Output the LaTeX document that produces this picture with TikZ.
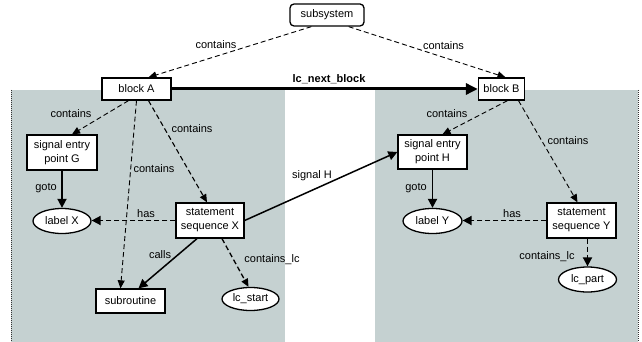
\documentclass[tikz,border=0pt]{standalone}
\usepackage{fontspec}
\setmainfont{Liberation Sans}
\usetikzlibrary{arrows.meta,shapes.geometric}
\definecolor{panel}{RGB}{197,209,209}
\tikzset{
  every node/.style={font=\fontsize{11}{14}\selectfont},
  box/.style={draw, line width=1.3pt, fill=white, inner sep=0pt, align=center},
  oval/.style={ellipse, draw, line width=1.3pt, fill=white, inner sep=0pt},
  lbl/.style={inner sep=0pt},
  tipthin/.style={-{Triangle[length=8pt,width=7pt]}},
  tipthick/.style={-{Triangle[length=9pt,width=9pt]}},
  dashes/.style={dash pattern=on 5pt off 3pt},
  thin dep/.style={tipthin, dashes, line width=0.9pt},
  thick dep/.style={tipthick, dashes, line width=1.8pt},
  solid link/.style={tipthick, line width=1.5pt},
  strong link/.style={tipthick, line width=1.8pt},
  edge rule/.style={dash pattern=on 1pt off 1pt, line width=0.8pt, black!80},
}
\begin{document}
\begin{tikzpicture}[x=1pt, y=-1pt]
  \useasboundingbox (0,0) rectangle (642,342);

  % shaded regions of the two blocks
  \fill[panel] (11,90) rectangle (285,342);
  \fill[panel] (375,90) rectangle (638,342);
  \draw[edge rule] (11,90) -- (11,342);
  \draw[edge rule] (638,90) -- (638,342);

  % nodes
  \node[box, rounded corners=4pt, minimum width=74pt, minimum height=22pt] (sys) at (327,15) {subsystem};
  \node[box, minimum width=69pt, minimum height=22pt] (A) at (136.5,89) {block A};
  \node[box, minimum width=46pt, minimum height=22pt] (B) at (501.5,89) {block B};

  \node[box, minimum width=70pt, minimum height=35pt] (G) at (62,152.5) {signal entry\\point G};
  \node[oval, minimum width=58pt, minimum height=25pt] (LX) at (62,221) {label X};
  \node[box, minimum width=68pt, minimum height=35pt] (SX) at (210,220.5) {statement\\sequence X};
  \node[box, minimum width=69pt, minimum height=24pt] (subr) at (130.5,301) {subroutine};
  \node[oval, minimum width=57pt, minimum height=23pt] (LS) at (250.5,299) {lc\_start};

  \node[box, minimum width=69pt, minimum height=34pt] (H) at (432.5,152) {signal entry\\point H};
  \node[oval, minimum width=59pt, minimum height=25pt] (LY) at (432.5,221) {label Y};
  \node[box, minimum width=69pt, minimum height=35pt] (SY) at (581.5,220.5) {statement\\sequence Y};
  \node[oval, minimum width=58pt, minimum height=25pt] (LP) at (587.5,279.5) {lc\_part};

  % connectors
  \draw[thin dep] ([xshift=22pt]sys.south west) -- ([xshift=12pt]A.north);
  \draw[thin dep] ([xshift=-16pt]sys.south east) -- ([xshift=4pt]B.north);
  \draw[line width=3pt, -{Triangle[length=12pt,width=11pt]}] (A.east) -- (B.west);

  \draw[thin dep] ([xshift=-8pt]A.south) -- ([xshift=10pt]G.north);
  \draw[thin dep] (A.south) -- ([xshift=-10pt]subr.north);
  \draw[thin dep, line width=1.1pt] ([xshift=12pt]A.south) -- ([xshift=-3pt]SX.north);
  \draw[strong link] (G) -- (LX);
  \draw[thick dep] (SX.west) -- (SX.west -| LX.east);
  \draw[solid link] ([xshift=-13pt]SX.south) -- ([xshift=8pt]subr.north);
  \draw[thin dep, line width=1.3pt] ([xshift=12pt]SX.south) -- ([xshift=-2pt]LS.north);
  \draw[solid link] (SX.east) -- (H.west);

  \draw[thin dep] ([xshift=6pt]B.south) -- ([xshift=10pt]H.north);
  \draw[thin dep] ([xshift=17pt]B.south) -- ([xshift=-4pt]SY.north);
  \draw[strong link] (H) -- (LY);
  \draw[thick dep] (SY.west) -- (SY.west -| LY.east);
  \draw[thick dep] ([xshift=6pt]SY.south) -- (LP.north);

  % connector labels
  \node[lbl] (t1) at (216,45) {contains};
  \node[lbl] (t2) at (443.5,46) {contains};
  \node[lbl, font=\fontsize{11}{14}\selectfont\bfseries] (t3) at (329,79) {lc\_next\_block};
  \node[lbl] (t4) at (71,114) {contains};
  \node[lbl] (t5) at (154,169) {contains};
  \node[lbl] (t6) at (192,129) {contains};
  \node[lbl] (t7) at (46,188) {goto};
  \node[lbl] (t8) at (146,214) {has};
  \node[lbl] (t9) at (160,255) {calls};
  \node[lbl] (t10) at (272,260) {contains\_lc};
  \node[lbl] (t11) at (312,176) {signal H};
  \node[lbl] (t12) at (447,114) {contains};
  \node[lbl] (t13) at (568,141) {contains};
  \node[lbl] (t14) at (416,188) {goto};
  \node[lbl] (t15) at (512,214) {has};
  \node[lbl] (t16) at (547,257) {contains\_lc};
\end{tikzpicture}
\end{document}
